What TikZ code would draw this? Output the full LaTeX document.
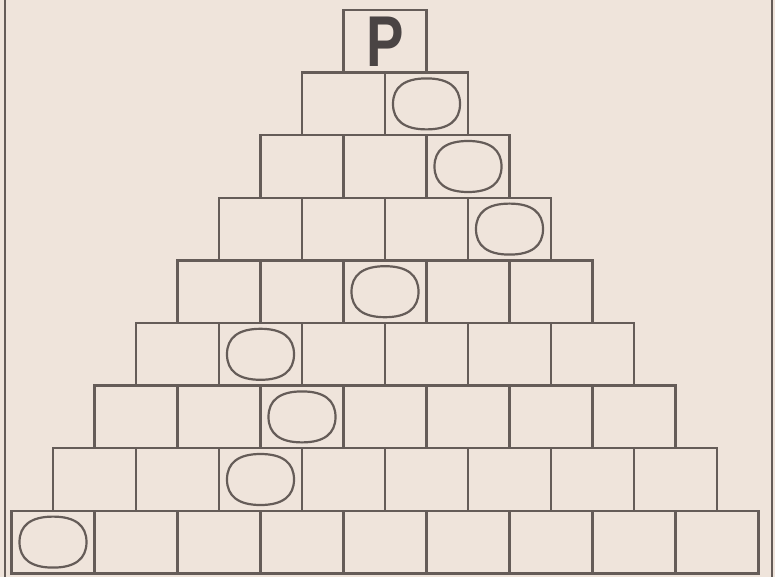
\documentclass[tikz,border=0pt]{standalone}
\usepackage{fontspec}
\setmainfont{Liberation Sans}
\usepackage{xcolor,graphicx}
\definecolor{paper}{HTML}{EFE4DB}
\definecolor{ink}{HTML}{655C58}
\definecolor{letter}{HTML}{4A4444}
% rounded oval drawn inside a box
\newcommand{\ovalin}[1]{%
  \draw[ovalline] ([xshift=33.5pt]#1.center)
    .. controls +(0pt,16.8pt) and +(22pt,0pt) .. ([yshift=25.5pt]#1.center)
    .. controls +(-22pt,0pt) and +(0pt,16.8pt) .. ([xshift=-33.5pt]#1.center)
    .. controls +(0pt,-16.8pt) and +(-22pt,0pt) .. ([yshift=-25.5pt]#1.center)
    .. controls +(22pt,0pt) and +(0pt,-16.8pt) .. cycle;}

\begin{document}
\begin{tikzpicture}[x=1pt,y=-1pt,
  box/.style={draw=ink,line width=2.5pt,minimum width=83pt,minimum height=62.6pt,inner sep=0pt,outer sep=0pt},
  ovalline/.style={draw=ink,line width=2.2pt},
  lbl/.style={font=\fontsize{72}{72}\selectfont\bfseries,text=letter}]
  \fill[paper] (0,0) rectangle (775,577);
  \useasboundingbox (0,0) rectangle (775,577);
  \draw[ink,line width=2.6pt] (5,0) -- (5,577);
  \draw[ink,line width=2.6pt] (772,0) -- (772,577);
  % row 1
  \node[box,lbl] (b11) at (385,41.3) {\scalebox{0.78}[1]{P}};
  % row 2
  \node[box] (b21) at (343.5,103.9) {};
  \node[box] (b22) at (426.5,103.9) {};
  % row 3
  \node[box] (b31) at (302,166.5) {};
  \node[box] (b32) at (385,166.5) {};
  \node[box] (b33) at (468,166.5) {};
  % row 4
  \node[box] (b41) at (260.5,229.1) {};
  \node[box] (b42) at (343.5,229.1) {};
  \node[box] (b43) at (426.5,229.1) {};
  \node[box] (b44) at (509.5,229.1) {};
  % row 5
  \node[box] (b51) at (219,291.7) {};
  \node[box] (b52) at (302,291.7) {};
  \node[box] (b53) at (385,291.7) {};
  \node[box] (b54) at (468,291.7) {};
  \node[box] (b55) at (551,291.7) {};
  % row 6
  \node[box] (b61) at (177.5,354.3) {};
  \node[box] (b62) at (260.5,354.3) {};
  \node[box] (b63) at (343.5,354.3) {};
  \node[box] (b64) at (426.5,354.3) {};
  \node[box] (b65) at (509.5,354.3) {};
  \node[box] (b66) at (592.5,354.3) {};
  % row 7
  \node[box] (b71) at (136,416.9) {};
  \node[box] (b72) at (219,416.9) {};
  \node[box] (b73) at (302,416.9) {};
  \node[box] (b74) at (385,416.9) {};
  \node[box] (b75) at (468,416.9) {};
  \node[box] (b76) at (551,416.9) {};
  \node[box] (b77) at (634,416.9) {};
  % row 8
  \node[box] (b81) at (94.5,479.5) {};
  \node[box] (b82) at (177.5,479.5) {};
  \node[box] (b83) at (260.5,479.5) {};
  \node[box] (b84) at (343.5,479.5) {};
  \node[box] (b85) at (426.5,479.5) {};
  \node[box] (b86) at (509.5,479.5) {};
  \node[box] (b87) at (592.5,479.5) {};
  \node[box] (b88) at (675.5,479.5) {};
  % row 9
  \node[box] (b91) at (53,542.1) {};
  \node[box] (b92) at (136,542.1) {};
  \node[box] (b93) at (219,542.1) {};
  \node[box] (b94) at (302,542.1) {};
  \node[box] (b95) at (385,542.1) {};
  \node[box] (b96) at (468,542.1) {};
  \node[box] (b97) at (551,542.1) {};
  \node[box] (b98) at (634,542.1) {};
  \node[box] (b99) at (717,542.1) {};
  % ovals
  \ovalin{b22}
  \ovalin{b33}
  \ovalin{b44}
  \ovalin{b53}
  \ovalin{b62}
  \ovalin{b73}
  \ovalin{b83}
  \ovalin{b91}
\end{tikzpicture}
\end{document}
